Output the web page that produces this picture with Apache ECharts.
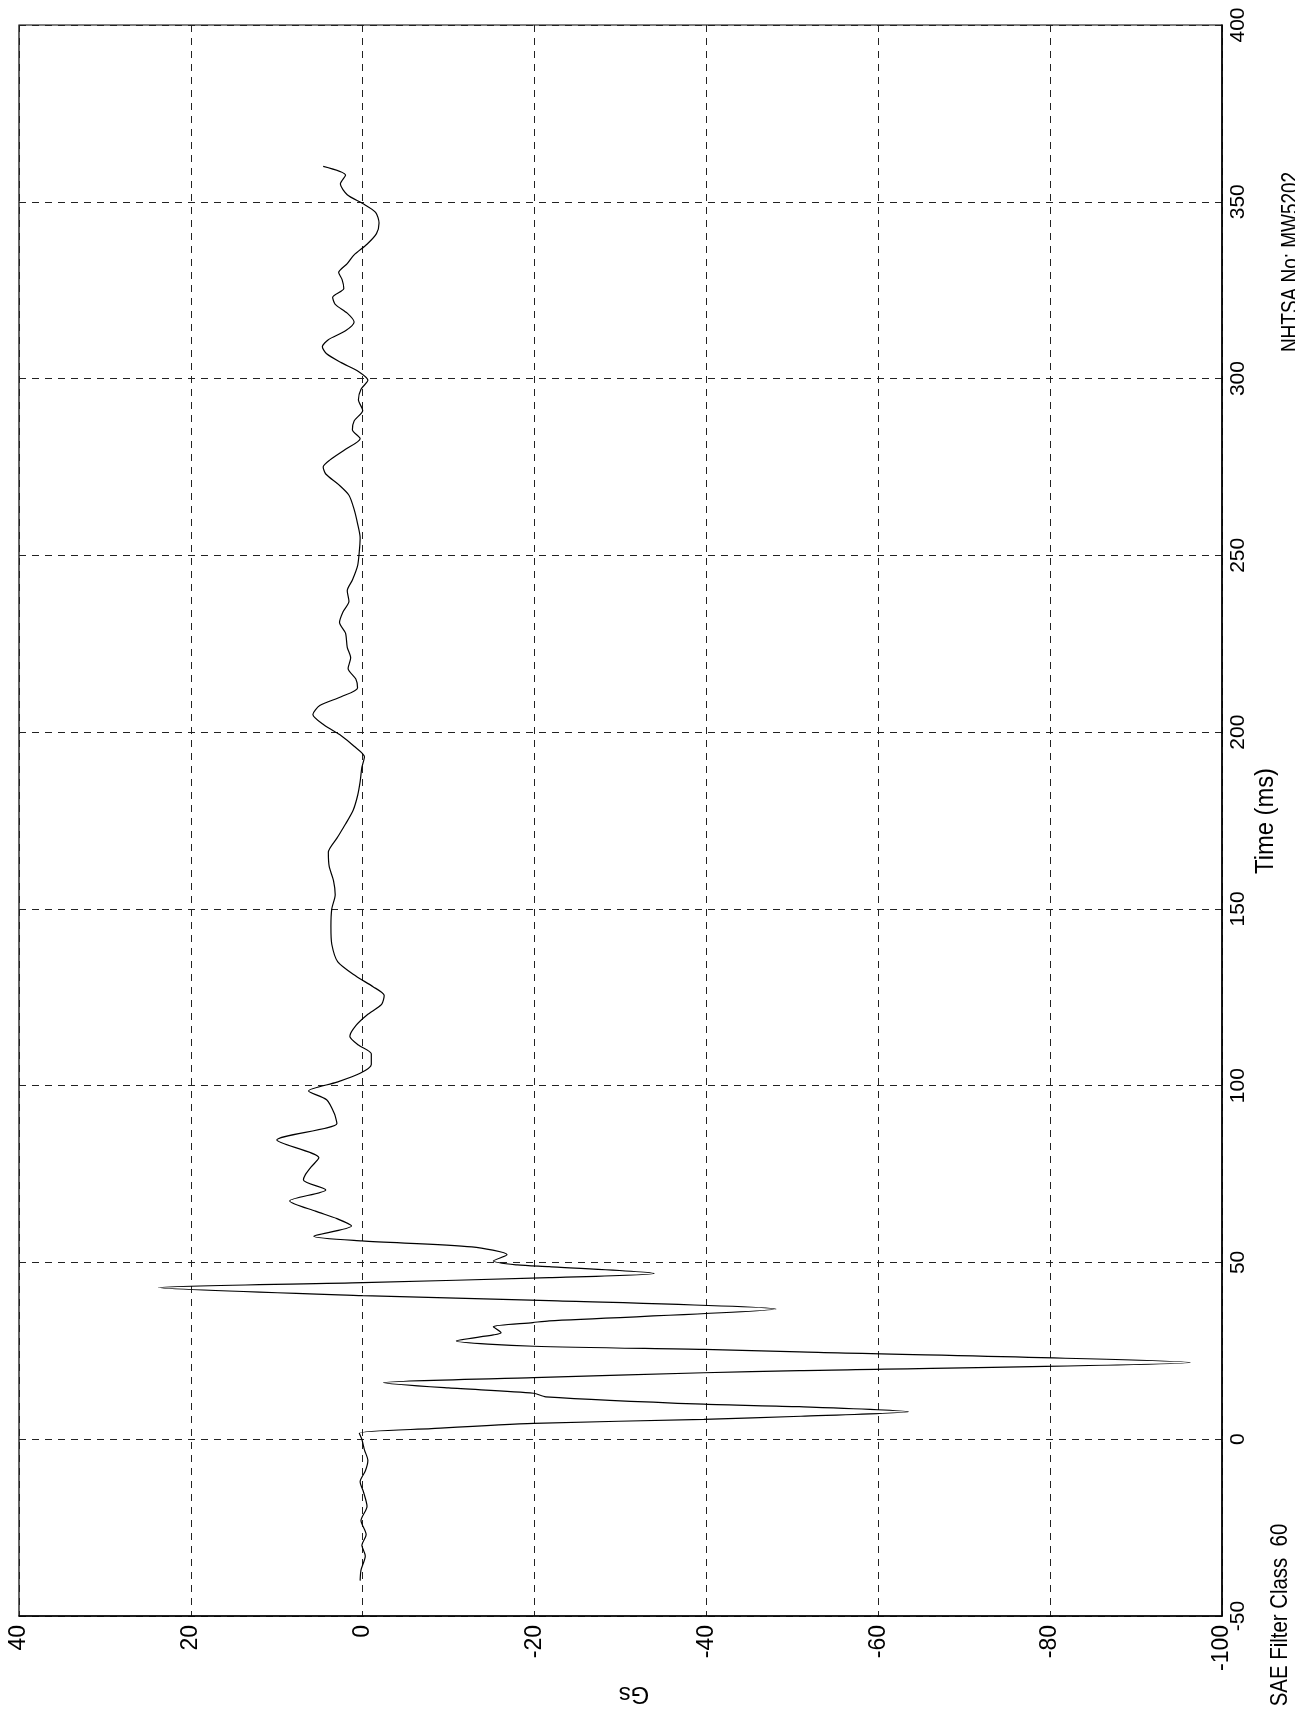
<!DOCTYPE html>
<html>
<head>
<meta charset="utf-8">
<script src="https://cdn.jsdelivr.net/npm/echarts@6/dist/echarts.min.js"></script>
<style>
html,body{margin:0;padding:0;background:#fff;}
#chart{width:1295px;height:1711px;}
</style>
</head>
<body>
<div id="chart"></div>
<script>
// Time (ms) samples of the trace
var timeMs = [-40,-37,-33,-30,-27,-23,-19,-15,-12,-9,-6,-3,0,1.7,3,4.5,5.6,6.5,7.8,9.2,9.9,12,13,14.5,16,17.4,18.8,19.4,21.7,24.7,25.4,26.3,27.8,29.5,30.1,31.8,33.0,33.5,36.8,39.2,40.6,42.9,44.3,45.7,46.9,48.8,49.3,50.4,52.2,54.4,56.1,57.4,60.3,62.4,64.5,67.4,70.5,73.3,74.7,77,79.6,84.6,89.3,92.1,96,98.5,101,103.5,106,109,111.5,114,117,120,123,125.5,128,131,135,140,145,150,154,158,162,166,170,174,178,182,186,190,193,196,199,202,205,207.5,210,212.5,215,218,221,224,228,231,234,237,240,243,247,251,255,259,263,267,270,273,275,277,280,283,285.5,288,291,294,297,299.5,302,304.5,307,309,311,313.5,316,318.5,321,323,325.5,328,330,332.5,335,338,341,344,347,349.5,352,355,357.5,360];
// Acceleration (Gs) at those times
var gValues = [0.3,0.2,-0.3,0.1,-0.4,0.2,-0.5,-0.1,0.3,-0.3,-0.6,-0.2,0.1,0.4,-8,-19.9,-39.7,-51,-63.5,-50.8,-39.7,-21.3,-19.9,-10,-2.4,-19.9,-39.7,-50.8,-96.3,-50.8,-39.7,-19.9,-10.9,-15.2,-16.1,-15.2,-19.8,-21.7,-48.1,-21.7,0,23.8,0,-21.7,-33.9,-21.7,-18,-15.2,-16.8,-12.7,0.1,5.7,1.3,3.0,5.5,8.5,4.3,6.9,6.7,6.0,5.1,10.0,3.0,3.3,4.2,6.3,3.0,0.3,-1.0,-1.0,0.5,1.5,0.8,-0.5,-2.2,-2.5,-1.2,0.8,2.9,3.6,3.7,3.6,3.2,3.4,3.9,4.0,3.0,2.0,1.1,0.6,0.3,0.1,-0.2,1.0,2.5,4.5,5.8,5.0,2.5,0.6,0.8,1.7,1.4,1.8,2.0,2.7,2.3,1.6,1.8,1.2,0.6,0.4,0.3,0.6,1.0,1.6,2.8,4.3,4.6,3.8,2.0,0.3,1.2,1.0,0.0,0.5,0.2,-0.6,0.5,2.5,4.2,4.7,4.0,2.0,1.0,1.8,3.2,3.5,2.2,2.4,2.8,1.8,1.0,-0.5,-1.6,-1.9,-1.5,0.0,1.8,2.6,2.0,4.6];
// Tick labels
var gTicks = [40,20,0,-20,-40,-60,-80,-100];
var timeTicks = [-50,0,50,100,150,200,250,300,350,400];

var pts = timeMs.map(function(t,i){return [gValues[i], t];});

var chart = echarts.init(document.getElementById('chart'), null, {renderer:'canvas'});
var dash = {type:[7,6], color:'#222', width:1};
var sans = '"Liberation Sans", Arial, sans-serif';
chart.setOption({
  animation:false,
  backgroundColor:'#fff',
  grid:{left:19, right:73, top:25, bottom:95, show:true, borderColor:'#000', borderWidth:1.2, backgroundColor:'transparent'},
  xAxis:{
    type:'value', inverse:true, min:gTicks[gTicks.length-1], max:gTicks[0], interval:20, position:'bottom',
    axisLine:{show:true, onZero:false, lineStyle:{color:'#000', width:1.5}},
    axisTick:{show:false},
    splitLine:{show:true, lineStyle:dash},
    axisLabel:{rotate:90, margin:9, color:'#000', fontSize:23, fontFamily:sans}
  },
  yAxis:{
    type:'value', min:timeTicks[0], max:timeTicks[timeTicks.length-1], interval:50, position:'right',
    axisLine:{show:true, onZero:false, lineStyle:{color:'#000', width:1.5}},
    axisTick:{show:false},
    splitLine:{show:true, lineStyle:dash},
    axisLabel:{rotate:90, margin:6, color:'#000', fontSize:21, fontFamily:sans}
  },
  graphic:[
    {type:'text', x:1266, y:821, rotation:Math.PI/2, scaleX:0.95, style:{text:'Time (ms)', fill:'#000', font:'25px "Liberation Sans", Arial, sans-serif', align:'center', verticalAlign:'middle'}},
    {type:'text', x:1291, y:262, rotation:Math.PI/2, scaleX:0.79, style:{text:'NHTSA No: MW5202', fill:'#000', font:'24px "Liberation Sans", Arial, sans-serif', align:'center', verticalAlign:'middle'}},
    {type:'text', x:1280, y:1615, rotation:Math.PI/2, scaleX:0.85, style:{text:'SAE Filter Class  60', fill:'#000', font:'24px "Liberation Sans", Arial, sans-serif', align:'center', verticalAlign:'middle'}},
    {type:'text', x:634, y:1694, rotation:Math.PI, style:{text:'Gs', fill:'#000', font:'24px "Liberation Sans", Arial, sans-serif', align:'center', verticalAlign:'middle'}}
  ],
  series:[{
    type:'line', data:pts, showSymbol:false, smooth:0.25,
    lineStyle:{color:'#000', width:1.2}
  }]
});
</script>
</body>
</html>
